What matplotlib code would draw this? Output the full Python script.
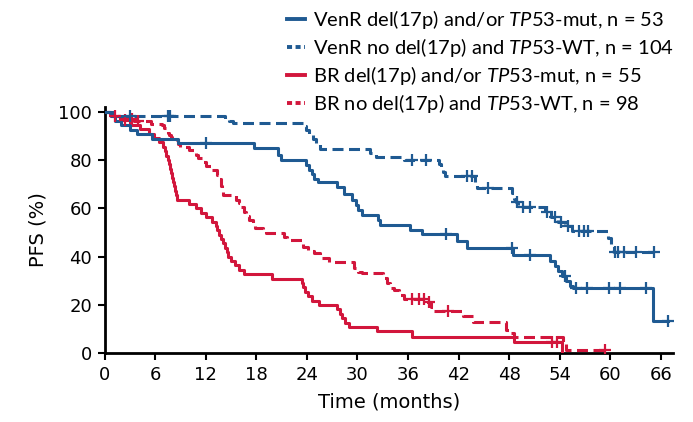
import numpy as np
import matplotlib
matplotlib.use("Agg")
import matplotlib.pyplot as plt
from matplotlib.lines import Line2D

plt.rcParams['font.family'] = ['DejaVu Sans']
plt.rcParams['mathtext.fontset'] = 'custom'
plt.rcParams['mathtext.rm'] = 'Lato'
plt.rcParams['mathtext.it'] = 'Lato:italic'

BLUE = "#1f5a92"
RED = "#d2163c"

# VenR del(17p) and/or TP53-mut, n = 53  (solid blue)
venr_mut_t = [0, 0.8, 1.3, 2.0, 3.0, 3.9, 5.6, 8.7, 17.7, 20.6, 20.9, 23.9, 24.3, 24.6, 24.9,
              25.3, 27.6, 28.4, 29.4, 29.8, 30.1, 30.5, 32.5, 32.7, 36.3, 37.7, 41.8, 43.0,
              48.5, 52.8, 53.4, 53.8, 54.3, 54.8, 55.2, 55.6, 65.1]
venr_mut_s = [100, 98.1, 96.2, 94.3, 92.5, 90.6, 88.7, 86.8, 84.9, 82.0, 80.0, 78.0, 76.0, 74.0, 72.0,
              70.7, 68.6, 66.0, 63.4, 61.4, 59.4, 57.3, 55.2, 53.2, 51.1, 49.4, 46.5, 43.6,
              40.6, 38.0, 36.0, 34.0, 32.0, 30.0, 28.0, 27.0, 13.5]
venr_mut_cens = [12.0, 40.5, 48.4, 50.5, 54.6, 55.9, 57.3, 59.8, 61.1, 64.2, 66.9]

# VenR no del(17p) and TP53-WT, n = 104  (dashed blue)
venr_wt_t = [0, 1.0, 1.5, 14.3, 14.8, 15.2, 23.6, 23.9, 24.3, 24.7, 25.1, 25.6, 31.5, 32.2, 35.5,
             39.7, 39.9, 40.1, 40.4, 43.9, 44.2, 48.3, 48.6, 48.8, 49.0, 52.3, 53.0, 53.8, 54.6,
             55.5, 59.7, 60.1, 60.5]
venr_wt_s = [100, 99.0, 98.1, 97.1, 96.2, 95.2, 94.2, 92.3, 90.4, 88.5, 86.5, 84.6, 83.0, 81.4, 79.8,
             78.2, 76.6, 75.0, 73.4, 71.0, 68.3, 66.5, 64.0, 62.5, 60.7, 58.6, 56.5, 54.5, 52.5,
             50.4, 47.5, 44.8, 42.0]
venr_wt_cens = [3.0, 7.5, 7.8, 36.5, 38.1, 43.0, 43.6, 45.5, 48.9, 49.7, 50.5, 52.5, 53.4, 54.2,
                55.0, 56.3, 56.9, 57.4, 60.6, 60.9, 61.6, 63.0, 65.2]

# BR del(17p) and/or TP53-mut, n = 55  (solid red)
br_mut_t = [0, 0.8, 1.8, 3.0, 4.2, 5.3, 5.9, 6.5, 6.9, 7.2, 7.35, 7.5, 7.65, 7.8, 7.9, 8.0, 8.15,
            8.3, 8.4, 8.5, 8.6, 10.0, 10.9, 11.5, 12.0, 12.7, 13.2, 13.4, 13.6, 13.8, 14.1, 14.3,
            14.5, 14.7, 15.0, 15.5, 16.0, 16.5, 19.9, 23.4, 23.6, 23.8, 24.2, 24.6, 25.4, 27.6,
            27.9, 28.2, 28.5, 29.0, 32.3, 36.5, 48.6, 54.3]
br_mut_s = [100, 98.2, 96.4, 94.5, 92.7, 90.9, 89.1, 87.3, 85.5, 83.6, 81.8, 80.0, 78.2, 76.4, 74.5,
            72.7, 70.9, 69.1, 67.3, 65.5, 63.6, 61.8, 60.0, 58.2, 56.4, 54.5, 52.7, 50.9, 49.1,
            47.3, 45.5, 43.6, 41.8, 40.0, 38.2, 36.4, 34.5, 32.7, 30.9, 29.1, 27.3, 25.5, 23.6,
            21.8, 20.0, 18.2, 16.4, 14.5, 12.7, 10.9, 9.1, 6.9, 4.8, 0]
br_mut_cens = [2.4, 53.1, 53.7]

# BR no del(17p) and TP53-WT, n = 98  (dashed red)
br_wt_t = [0, 0.6, 1.2, 2.0, 3.5, 5.5, 6.8, 7.0, 7.3, 7.5, 7.7, 7.85, 8.0, 8.7, 8.9, 10.0, 10.9,
           11.1, 11.7, 12.1, 12.8, 13.3, 13.5, 13.8, 13.95, 14.1, 15.6, 15.9, 16.2, 16.5, 16.8,
           17.1, 17.6, 17.9, 18.8, 19.2, 21.3, 21.7, 23.5, 24.2, 24.8, 25.6, 26.6, 29.6, 30.1,
           30.6, 33.0, 33.5, 33.9, 34.3, 34.9, 35.5, 38.2, 38.7, 39.0, 42.5, 43.7, 47.6, 48.2,
           48.6, 54.4, 54.7]
br_wt_s = [100, 99, 98, 97, 96, 95, 94.3, 93.3, 92.3, 91.3, 90.3, 89.3, 88.3, 86.5, 85.5, 84.2, 82.0,
           81.0, 79.0, 77.3, 75.9, 73.8, 72.0, 69.0, 67.0, 65.5, 63.5, 62.2, 60.7, 58.6, 56.6,
           55.2, 53.1, 51.8, 51.0, 49.7, 48.3, 46.9, 44.0, 42.5, 41.4, 39.3, 37.9, 35.2, 33.8,
           33.1, 31.2, 29.1, 26.9, 26.2, 24.1, 22.5, 21.4, 19.3, 17.6, 15.2, 12.8, 9.6, 8.3,
           6.9, 4.2, 1.4]
br_wt_cens = [1.2, 3.3, 4.0, 36.5, 37.3, 37.9, 38.5, 40.8, 59.4]

x_ticks = [0, 6, 12, 18, 24, 30, 36, 42, 48, 54, 60, 66]
y_ticks = [0, 20, 40, 60, 80, 100]

labels = [r"VenR del(17p) and/or $\mathit{TP53}$-mut, n = 53",
          r"VenR no del(17p) and $\mathit{TP53}$-WT, n = 104",
          r"BR del(17p) and/or $\mathit{TP53}$-mut, n = 55",
          r"BR no del(17p) and $\mathit{TP53}$-WT, n = 98"]


def km_curve(ax, t, s, cens, color, dashed):
    t = list(t)
    s = list(s)
    end = max(cens + [t[-1]])
    if s[-1] > 0 and end > t[-1]:
        t.append(end)
        s.append(s[-1])
    ls = (0, (3.6, 1.8)) if dashed else '-'
    ax.step(t, s, where='post', color=color, lw=2.2, linestyle=ls, zorder=3)
    ct = np.array(cens)
    idx = np.searchsorted(np.array(t), ct, side='right') - 1
    cy = np.array(s)[idx]
    ax.plot(ct, cy, linestyle='none', marker='+', color=color, ms=9, mew=1.6, zorder=4)


fig = plt.figure(figsize=(6.93, 4.22), dpi=100)
ax = fig.add_axes([0.1508, 0.163, 0.821, 0.584])

km_curve(ax, br_wt_t, br_wt_s, br_wt_cens, RED, True)
km_curve(ax, br_mut_t, br_mut_s, br_mut_cens, RED, False)
km_curve(ax, venr_wt_t, venr_wt_s, venr_wt_cens, BLUE, True)
km_curve(ax, venr_mut_t, venr_mut_s, venr_mut_cens, BLUE, False)

ax.set_xlim(0, 67.5)
ax.set_ylim(0, 102)
ax.set_xticks(x_ticks)
ax.set_yticks(y_ticks)
ax.spines['top'].set_visible(False)
ax.spines['right'].set_visible(False)
ax.spines['left'].set_linewidth(2)
ax.spines['bottom'].set_linewidth(2)
ax.tick_params(direction='out', length=5, width=1.5, labelsize=13, pad=4)
ax.set_xlabel("Time (months)", fontsize=14, labelpad=6)
ax.set_ylabel("PFS (%)", fontsize=14, labelpad=8)

handles = [Line2D([], [], color=BLUE, lw=2.8),
           Line2D([], [], color=BLUE, lw=2.8, linestyle=(0, (1.3, 0.9))),
           Line2D([], [], color=RED, lw=2.8),
           Line2D([], [], color=RED, lw=2.8, linestyle=(0, (1.3, 0.9)))]
fig.legend(handles, labels, loc='upper left', bbox_to_anchor=(0.4026, 1.0), frameon=False,
           prop={'family': 'Lato', 'size': 14.5}, handlelength=0.9, handletextpad=0.4,
           labelspacing=0.25, borderaxespad=0.0)

fig.savefig("out.png", dpi=100)
